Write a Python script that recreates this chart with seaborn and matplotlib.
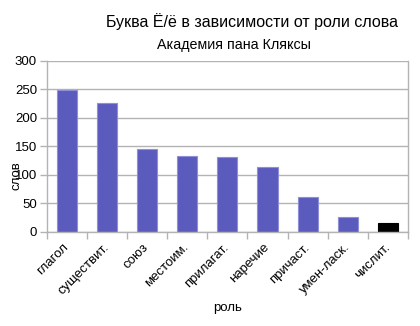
import matplotlib
matplotlib.use("Agg")
import matplotlib.pyplot as plt
import seaborn as sns
import pandas as pd
from matplotlib.ticker import FixedLocator

categories = ["глагол", "существит.", "союз", "местоим.", "прилагат.", "наречие", "причаст.", "умен-ласк.", "числит."]
values = [249, 225, 145, 133, 131, 113, 61, 26, 16]
bar_colors = ["#5b5bbe"] * 8 + ["#000000"]
edge_colors = ["#8f8fd8"] * 8 + ["#000000"]

df = pd.DataFrame({"роль": categories, "слов": values})

sns.set_theme(style="white")
plt.rcParams['font.family'] = ['Liberation Sans', 'DejaVu Sans']
plt.rcParams['text.color'] = 'black'
plt.rcParams['axes.labelcolor'] = 'black'
plt.rcParams['xtick.labelcolor'] = 'black'
plt.rcParams['ytick.labelcolor'] = 'black'

fig = plt.figure(figsize=(4.2, 3.26), dpi=100)
ax = fig.add_axes([46.7/420, 1 - 231.7/326, (408 - 46.7)/420, (231.7 - 60.7)/326])

sns.barplot(data=df, x="роль", y="слов", hue="роль", palette=bar_colors, width=0.5,
            legend=False, ax=ax, saturation=1)
for p, ec in zip(ax.patches, edge_colors):
    p.set_edgecolor(ec)
    p.set_linewidth(0.8)

ax.set_ylim(0, 300)
ax.set_xlim(-0.5, len(categories) - 0.5)
ax.set_yticks(range(0, 301, 50))
ax.yaxis.grid(True, color="#b3b3b3", linewidth=1)
ax.set_axisbelow(True)
for s in ["left", "bottom", "right"]:
    ax.spines[s].set_color("#b3b3b3")
    ax.spines[s].set_linewidth(1)
ax.spines["top"].set_visible(False)

ax.set_xticks(range(len(categories)))
ax.set_xticklabels(categories, rotation=45, ha="right", va="center", rotation_mode="anchor", fontsize=9.5)
ax.tick_params(axis="x", which="major", length=0, pad=10)
ax.xaxis.set_minor_locator(FixedLocator([i - 0.5 for i in range(len(categories) + 1)]))
ax.tick_params(axis="x", which="minor", length=5, color="#b3b3b3", width=1, bottom=True)
ax.tick_params(axis="y", length=5, color="#b3b3b3", width=1, left=True, labelsize=9.5, pad=2)

ax.set_xlabel("роль", fontsize=9.5, labelpad=4)
ax.set_ylabel("слов", fontsize=9.5)
ax.yaxis.set_label_coords(-24/361, 0.33)

fig.text(252/420, 1 - 22/326, "Буква Ё/ё в зависимости от роли слова", ha="center", va="center", fontsize=11.5)
fig.text(234/420, 1 - 45/326, "Академия пана Кляксы", ha="center", va="center", fontsize=10.3)

fig.savefig("out.png", dpi=100)
